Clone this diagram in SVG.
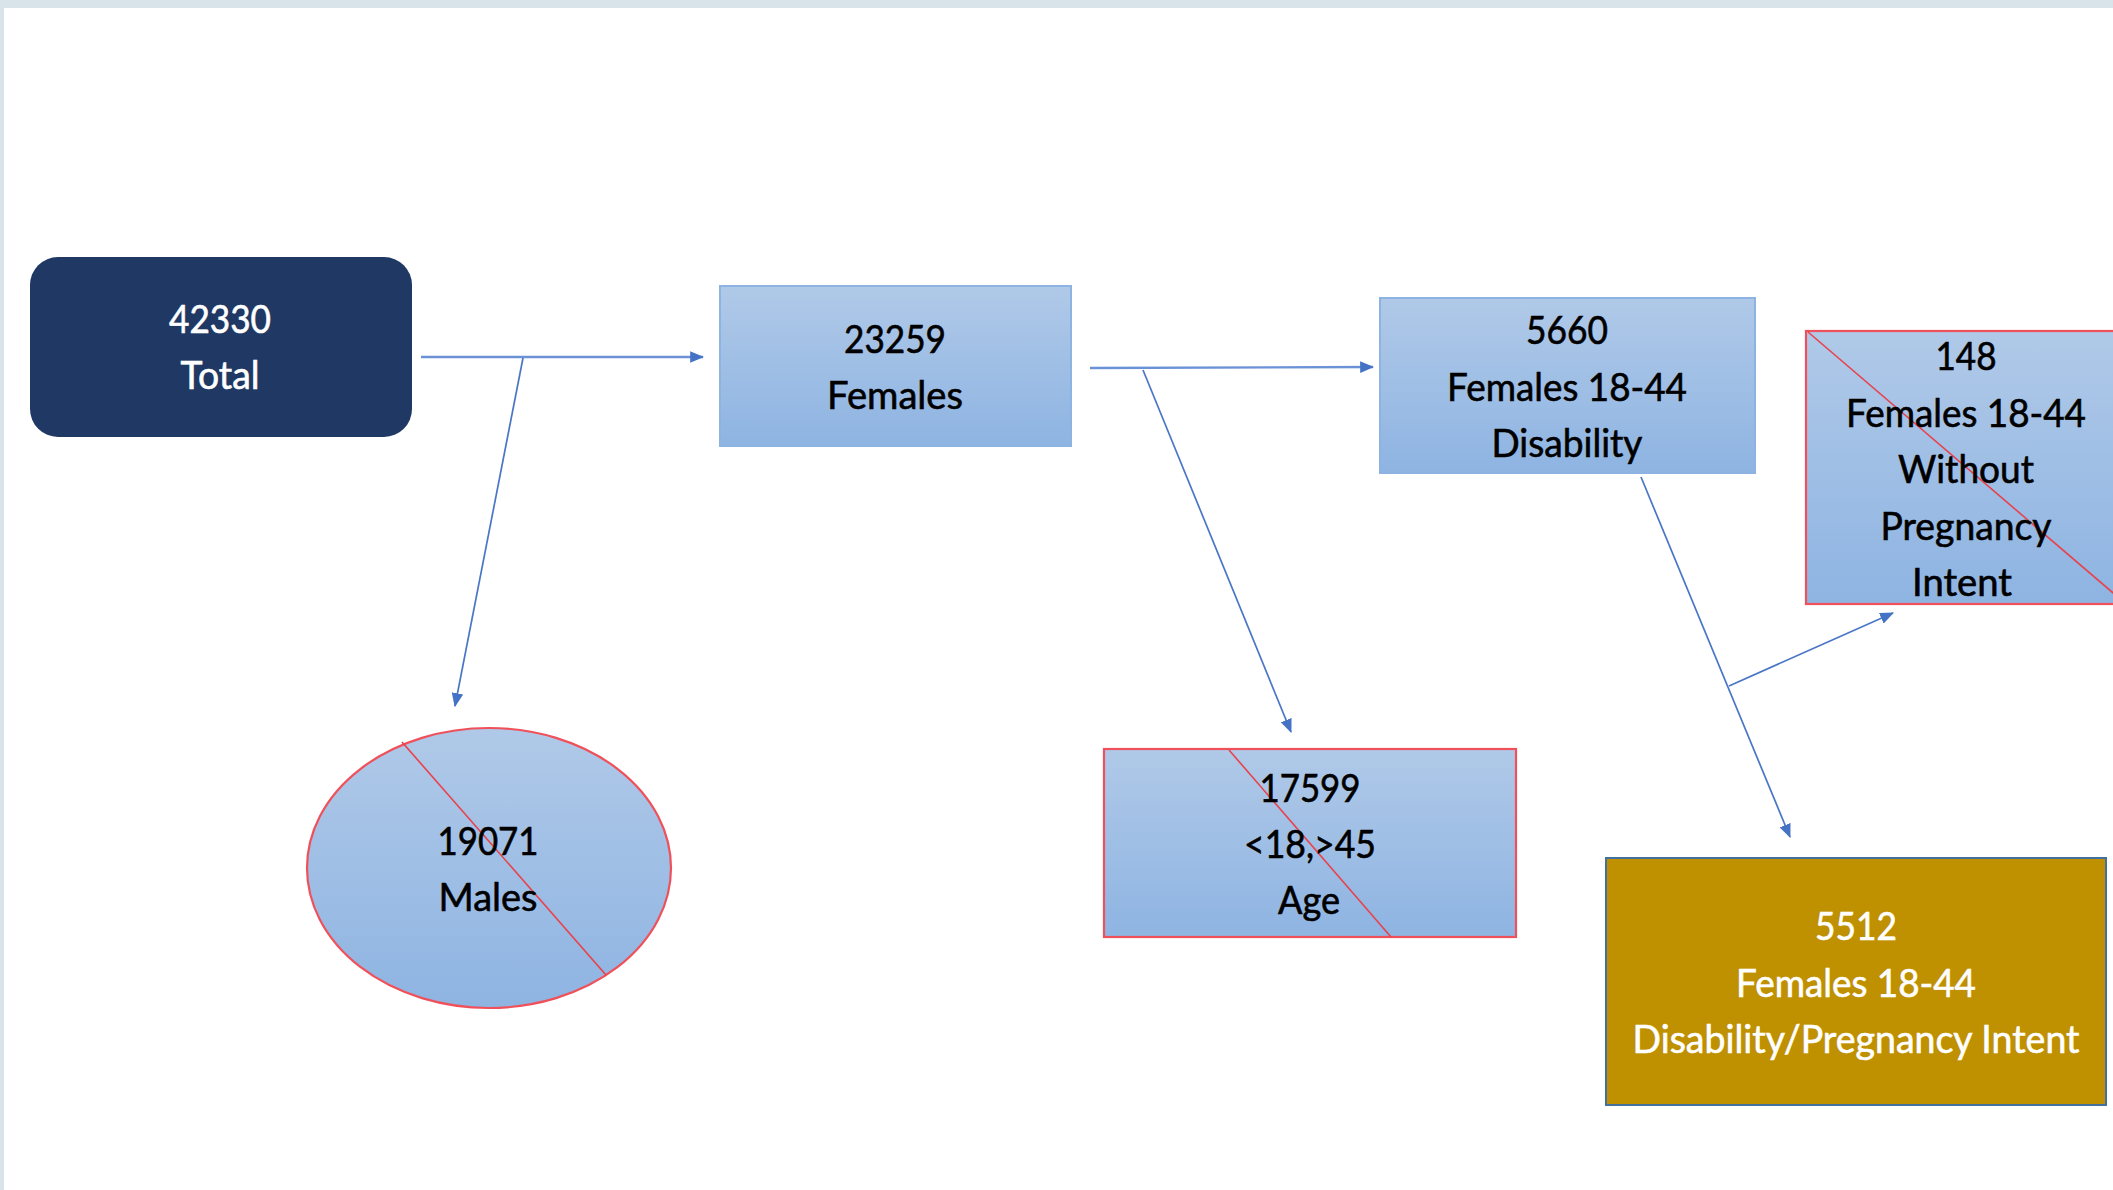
<svg xmlns="http://www.w3.org/2000/svg" width="2113" height="1190" viewBox="0 0 2113 1190">
  <style>
    .t { font-family: Lato, "Open Sans", "Liberation Sans", sans-serif; font-size: 38px; text-anchor: middle; stroke-width: 0.6px; }
    .dark { fill: #000000; stroke: #000000; }
    .light { fill: #ffffff; stroke: #ffffff; }
    .blue { fill: url(#g); stroke: #8db3e2; stroke-width: 2; }
    .red { fill: url(#g); stroke: #f0505a; stroke-width: 2.2; }
    .cross { stroke: #e8424c; stroke-width: 1.6; fill: none; }
    .conn { stroke: #4a76c6; stroke-width: 1.7; fill: none; }
    .main { stroke: #6b92d6; stroke-width: 2.4; fill: none; }
  </style>
  <defs>
    <linearGradient id="g" x1="0" y1="0" x2="0" y2="1">
      <stop offset="0" stop-color="#b0c9e8"/>
      <stop offset="1" stop-color="#8eb4e2"/>
    </linearGradient>
    <marker id="ah" viewBox="0 0 12 10" refX="11" refY="5" markerUnits="userSpaceOnUse" markerWidth="14" markerHeight="12" orient="auto">
      <path d="M0,0 L12,5 L0,10 Z" fill="#4472c4"/>
    </marker>
  </defs>

  <rect x="0" y="0" width="2113" height="1190" fill="#d8e4ea"/>
  <rect x="4" y="8" width="2109" height="1182" fill="#ffffff"/>

  <g id="connectors">
    <line class="main" x1="421" y1="357" x2="703" y2="357" marker-end="url(#ah)"/>
    <line class="conn" x1="523" y1="358" x2="455" y2="706" marker-end="url(#ah)"/>
    <line class="main" x1="1090" y1="368" x2="1373" y2="367" marker-end="url(#ah)"/>
    <line class="conn" x1="1143" y1="370" x2="1291" y2="732" marker-end="url(#ah)"/>
    <line class="conn" x1="1641" y1="477" x2="1790" y2="837" marker-end="url(#ah)"/>
    <line class="conn" x1="1729" y1="686" x2="1893" y2="613" marker-end="url(#ah)"/>
  </g>

  <g id="node-total">
    <rect x="30" y="257" width="382" height="180" rx="28" ry="28" fill="#203864"/>
    <text class="t light" x="220" y="333" textLength="102" lengthAdjust="spacingAndGlyphs">42330</text>
    <text class="t light" x="220" y="389" textLength="79" lengthAdjust="spacingAndGlyphs">Total</text>
  </g>

  <g id="node-females">
    <rect class="blue" x="720" y="286" width="351" height="160"/>
    <text class="t dark" x="895" y="353" textLength="102" lengthAdjust="spacingAndGlyphs">23259</text>
    <text class="t dark" x="895" y="409" textLength="136" lengthAdjust="spacingAndGlyphs">Females</text>
  </g>

  <g id="node-disability">
    <rect class="blue" x="1380" y="298" width="375" height="175"/>
    <text class="t dark" x="1567" y="344" textLength="82" lengthAdjust="spacingAndGlyphs">5660</text>
    <text class="t dark" x="1567" y="401" textLength="240" lengthAdjust="spacingAndGlyphs">Females 18-44</text>
    <text class="t dark" x="1567" y="457" textLength="151" lengthAdjust="spacingAndGlyphs">Disability</text>
  </g>

  <g id="node-without-intent">
    <rect class="red" x="1806" y="331" width="320" height="273"/>
    <line class="cross" x1="1808" y1="332" x2="2126" y2="604"/>
    <text class="t dark" x="1966" y="370" textLength="61" lengthAdjust="spacingAndGlyphs">148</text>
    <text class="t dark" x="1966" y="427" textLength="240" lengthAdjust="spacingAndGlyphs">Females 18-44</text>
    <text class="t dark" x="1966" y="483" textLength="136" lengthAdjust="spacingAndGlyphs">Without</text>
    <text class="t dark" x="1966" y="540" textLength="171" lengthAdjust="spacingAndGlyphs">Pregnancy</text>
    <text class="t dark" x="1962" y="596" textLength="100" lengthAdjust="spacingAndGlyphs">Intent</text>
  </g>

  <g id="node-males">
    <ellipse class="red" cx="489" cy="868" rx="182" ry="140"/>
    <line class="cross" x1="402" y1="742" x2="606" y2="975"/>
    <text class="t dark" x="488" y="855" textLength="101" lengthAdjust="spacingAndGlyphs">19071</text>
    <text class="t dark" x="488" y="911" textLength="99" lengthAdjust="spacingAndGlyphs">Males</text>
  </g>

  <g id="node-age">
    <rect class="red" x="1104" y="749" width="412" height="188"/>
    <line class="cross" x1="1229" y1="750" x2="1391" y2="937"/>
    <text class="t dark" x="1310" y="802" textLength="101" lengthAdjust="spacingAndGlyphs">17599</text>
    <text class="t dark" x="1310" y="858" textLength="132" lengthAdjust="spacingAndGlyphs">&lt;18,&gt;45</text>
    <text class="t dark" x="1309" y="914" textLength="62" lengthAdjust="spacingAndGlyphs">Age</text>
  </g>

  <g id="node-final">
    <rect x="1606" y="858" width="500" height="247" fill="#bf9000" stroke="#41719c" stroke-width="2"/>
    <text class="t light" x="1856" y="940" textLength="82" lengthAdjust="spacingAndGlyphs">5512</text>
    <text class="t light" x="1856" y="997" textLength="240" lengthAdjust="spacingAndGlyphs">Females 18-44</text>
    <text class="t light" x="1856" y="1053" textLength="447" lengthAdjust="spacingAndGlyphs">Disability/Pregnancy Intent</text>
  </g>
</svg>
